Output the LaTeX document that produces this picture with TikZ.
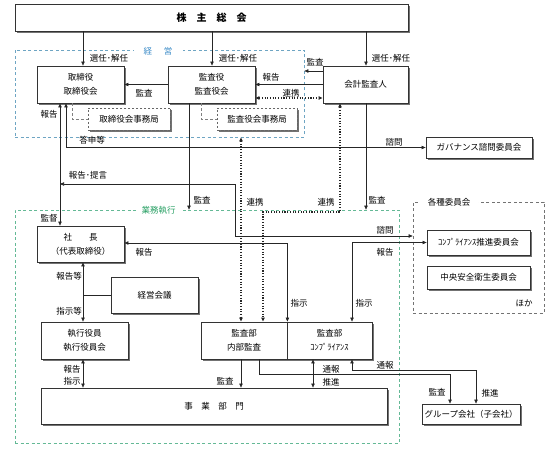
\documentclass[tikz,border=0pt]{standalone}
\usepackage{fontspec}
\setmainfont{Noto Sans CJK JP}
\usetikzlibrary{arrows.meta,shadows}
\definecolor{kblue}{RGB}{60,140,200}
\definecolor{kgreen}{RGB}{40,160,100}
\definecolor{kbline}{RGB}{110,165,195}
\definecolor{kgline}{RGB}{100,185,150}
\newcommand{\myfs}{\fontsize{8.5}{14}\selectfont}
\tikzset{
  box/.style={draw=black!80, line width=0.8pt, fill=white, align=center, inner sep=0pt,
    font=\myfs, text=black,
    drop shadow={shadow xshift=2.2pt, shadow yshift=-2.2pt, fill=black!55, opacity=1}},
  jbox/.style={box, draw=black!60, dash pattern=on 2.5pt off 1.5pt},
  region/.style={dash pattern=on 3pt off 2.5pt, line width=0.7pt, inner sep=0pt},
  rglabel/.style={fill=white, inner ysep=1pt, font=\myfs},
  lbl/.style={font=\myfs, inner sep=0pt, text=black},
  tipA/.tip={Triangle[length=4pt,width=3.4pt]},
  arr/.style={-tipA, line width=0.6pt, draw=black!85},
  arrb/.style={tipA-tipA, line width=0.6pt, draw=black!85},
  dotarrb/.style={tipA-tipA, line width=1.1pt, dash pattern=on 1.1pt off 1.6pt, draw=black!85},
  plain/.style={line width=0.6pt, draw=black!85},
  dlink/.style={line width=0.6pt, draw=black!50, dash pattern=on 3pt off 2pt}
}
\begin{document}
\begin{tikzpicture}[x=1pt,y=-1pt]
\useasboundingbox (0,0) rectangle (556,454);
% helper coordinates
\coordinate (xA) at (83,0);
\coordinate (xB) at (212,0);
\coordinate (xC) at (366,0);
\coordinate (xD) at (60,0);
\coordinate (xE) at (66,0);
\coordinate (xF) at (189,0);
\coordinate (xG) at (241,0);
\coordinate (xH) at (340,0);
\coordinate (xI) at (263,0);
\coordinate (xJ) at (235,0);
\coordinate (xL) at (352,0);
\coordinate (xM) at (259,0);
\coordinate (xN) at (313,0);
\coordinate (xO) at (450,0);
\coordinate (xP) at (476,0);
\coordinate (xQ) at (72,0);
\coordinate (xR) at (201,0);
\coordinate (y71) at (0,71);
\coordinate (y98) at (0,98);
\coordinate (y184) at (0,184);
\coordinate (y212) at (0,212);
\coordinate (y236) at (0,236);
\coordinate (y243) at (0,243);
\coordinate (y370) at (0,370);
\coordinate (y374) at (0,374);
\coordinate (pRep) at (60,184);

% regions
\node[region, draw=kbline, minimum width=289pt, minimum height=87pt] (rgKeiei) at (159.5,93.5) {};
\node[region, draw=kgline, minimum width=384pt, minimum height=233pt] (rgGyomu) at (207,326.5) {};
\node[region, draw=black!55, minimum width=131pt, minimum height=111pt] (rgKaku) at (478.5,257.5) {};
\node[rglabel, text=kblue, inner xsep=10pt] (lKeiei) at (158,51) {経\hspace{12pt}営};
\node[rglabel, text=kgreen, inner xsep=5pt] (lGyomu) at (158.5,210) {業務執行};
\node[rglabel, text=black, inner xsep=8pt] (lKaku) at (449,202) {各種委員会};
\node[lbl] (lHoka) at (524,303) {ほか};

% boxes
\node[box, minimum width=393pt, minimum height=27pt, font=\bfseries\fontsize{10}{12}\selectfont] (kabu) at (211.5,17.5) {株　主　総　会};
\node[box, minimum width=87pt, minimum height=37pt] (tori) at (80.5,84.5) {取締役\\取締役会};
\node[box, minimum width=87pt, minimum height=37pt] (kansayaku) at (211.5,84.5) {監査役\\監査役会};
\node[box, minimum width=85pt, minimum height=37pt] (kaikei) at (365.5,84.5) {会計監査人};
\node[jbox, minimum width=82pt, minimum height=22pt] (torijim) at (129,119) {取締役会事務局};
\node[jbox, minimum width=80pt, minimum height=22pt] (kanjim) at (257,119) {監査役会事務局};
\node[box, minimum width=106pt, minimum height=21pt] (gov) at (479,147.5) {ガバナンス諮問委員会};
\node[box, minimum width=87pt, minimum height=36pt] (shacho) at (80.5,244) {社　　長\\（代表取締役）};
\node[box, minimum width=87pt, minimum height=36pt] (kaigi) at (154.5,295) {経営会議};
\node[box, minimum width=87pt, minimum height=37pt] (shikko) at (84.5,340.5) {執行役員\\執行役員会};
\node[box, minimum width=86pt, minimum height=37pt] (kbL) at (244,340.5) {監査部\\内部監査};
\node[box, minimum width=85pt, minimum height=37pt] (kbR) at (329.5,340.5) {監査部\\ｺﾝﾌﾟﾗｲｱﾝｽ};
\node[box, minimum width=346pt, minimum height=36pt] (jigyo) at (214,406) {事　業　部　門};
\node[box, minimum width=103pt, minimum height=25pt] (comp) at (478.5,242.5) {ｺﾝﾌﾟﾗｲｱﾝｽ推進委員会};
\node[box, minimum width=103pt, minimum height=23pt] (chuo) at (478.5,277.5) {中央安全衛生委員会};
\node[box, minimum width=98pt, minimum height=20pt] (group) at (471,414) {グループ会社（子会社）};

% connectors
\draw[arr] (kabu.south -| xA) -- (tori.north -| xA);
\draw[arr] (kabu.south -| xB) -- (kansayaku.north -| xB);
\draw[arr] (kabu.south -| xC) -- (kaikei.north -| xC);
\draw[arr] (kansayaku.west) -- (tori.east);
\draw[arr] (kaikei.west) -- (kansayaku.east);
\draw[arr] (kaikei.west |- y71) -- (rgKeiei.east |- y71);
\draw[dotarrb] (kansayaku.east |- y98) -- (kaikei.west |- y98);
\draw[dlink] (tori.south -| xQ) |- (torijim.west);
\draw[dlink] (kansayaku.south -| xR) |- (kanjim.west);
\draw[arrb] (tori.south -| xD) -- (shacho.north -| xD);
\draw[arrb] (tori.south -| xE) |- (gov.west);
\draw[arrb] (pRep) -- (xJ |- y184) -- (xJ |- y236) -- (rgKaku.west |- y236);
\draw[arr] (kansayaku.south -| xF) -- (rgGyomu.north -| xF);
\draw[arr] (kaikei.south -| xC) -- (rgGyomu.north -| xC);
\draw[dotarrb] (rgKeiei.south -| xG) -- (kbL.north -| xG);
\draw[dotarrb] (kaikei.south -| xH) -- (xH |- y212) -- (xI |- y212) -- (kbL.north -| xI);
\draw[arrb] (kbL.north east) -- (kbL.north east |- y243) -- (shacho.east |- y243);
\draw[arrb] (kbR.north -| xL) |- (comp.west);
\draw[arrb] (shacho.south -| xA) -- (shikko.north -| xA);
\draw[plain] (kaigi.west) -- (kaigi.west -| xA);
\draw[arrb] (shikko.south -| xA) -- (jigyo.north -| xA);
\draw[arr] (kbL.south -| xG) -- (jigyo.north -| xG);
\draw[arr] (kbL.south -| xM) -- (xM |- y374) -- (xO |- y374) -- (group.north -| xO);
\draw[arrb] (kbR.south -| xN) -- (jigyo.north -| xN);
\draw[arrb] (kbR.south -| xL) -- (xL |- y370) -- (xP |- y370) -- (group.north -| xP);

% labels
\node[lbl] (t1) at (109,58) {選任･解任};
\node[lbl] (t2) at (238,58) {選任･解任};
\node[lbl] (t3) at (391,58) {選任･解任};
\node[lbl] (t4) at (144,93) {監査};
\node[lbl] (t5) at (271,77) {報告};
\node[lbl] (t6) at (315,62) {監査};
\node[lbl] (t7) at (291,93) {連携};
\node[lbl] (t8) at (49,114) {報告};
\node[lbl] (t9) at (92,140) {答申等};
\node[lbl] (t10) at (394,142) {諮問};
\node[lbl] (t11) at (88,175) {報告･提言};
\node[lbl] (t12) at (202,200) {監査};
\node[lbl] (t13) at (255,202) {連携};
\node[lbl] (t14) at (326,202) {連携};
\node[lbl] (t15) at (377,200) {監査};
\node[lbl] (t16) at (385,230) {諮問};
\node[lbl] (t17) at (385,252) {報告};
\node[lbl] (t18) at (49,218) {監督};
\node[lbl] (t19) at (144,252) {報告};
\node[lbl] (t20) at (69,276) {報告等};
\node[lbl] (t21) at (69,311) {指示等};
\node[lbl] (t22) at (299,303) {指示};
\node[lbl] (t23) at (364,303) {指示};
\node[lbl] (t24) at (72,369) {報告};
\node[lbl] (t25) at (72,381) {指示};
\node[lbl] (t26) at (225,381) {監査};
\node[lbl] (t27) at (331,369) {通報};
\node[lbl] (t28) at (331,382) {推進};
\node[lbl] (t29) at (385,365) {通報};
\node[lbl] (t30) at (437,392) {監査};
\node[lbl] (t31) at (490,393) {推進};
\end{tikzpicture}
\end{document}
